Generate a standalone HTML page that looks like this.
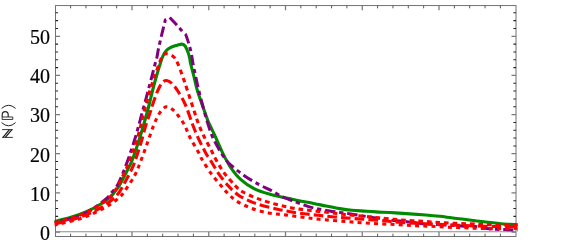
<!DOCTYPE html>
<html><head><meta charset="utf-8"><title>plot</title>
<style>
html,body{margin:0;padding:0;background:#fff;}
body{width:566px;height:243px;overflow:hidden;position:relative;font-family:"Liberation Serif",serif;}
</style></head><body>
<svg width="566" height="243" viewBox="0 0 566 243" style="position:absolute;left:0;top:0;display:block;will-change:transform">
<rect x="0" y="0" width="566" height="243" fill="#ffffff"/>
<defs><mask id="tm"><rect x="0" y="0" width="60" height="243" fill="#fff"/></mask><clipPath id="c"><rect x="54.3" y="5.55" width="463.4" height="230.95"/></clipPath></defs>
<line x1="55.5" y1="231.75" x2="516.0" y2="231.75" stroke="#8c8c8c" stroke-width="1"/>
<rect x="55.5" y="5.55" width="460.5" height="230.95" fill="none" stroke="#727272" stroke-width="1"/>
<path d="M70.60,5.55v2.8M70.60,236.5v-2.8M85.95,5.55v2.8M85.95,236.5v-2.8M101.30,5.55v2.8M101.30,236.5v-2.8M116.65,5.55v2.8M116.65,236.5v-2.8M147.35,5.55v2.8M147.35,236.5v-2.8M162.70,5.55v2.8M162.70,236.5v-2.8M178.05,5.55v2.8M178.05,236.5v-2.8M193.40,5.55v2.8M193.40,236.5v-2.8M224.10,5.55v2.8M224.10,236.5v-2.8M239.45,5.55v2.8M239.45,236.5v-2.8M254.80,5.55v2.8M254.80,236.5v-2.8M270.15,5.55v2.8M270.15,236.5v-2.8M300.85,5.55v2.8M300.85,236.5v-2.8M316.20,5.55v2.8M316.20,236.5v-2.8M331.55,5.55v2.8M331.55,236.5v-2.8M346.90,5.55v2.8M346.90,236.5v-2.8M377.60,5.55v2.8M377.60,236.5v-2.8M392.95,5.55v2.8M392.95,236.5v-2.8M408.30,5.55v2.8M408.30,236.5v-2.8M423.65,5.55v2.8M423.65,236.5v-2.8M454.35,5.55v2.8M454.35,236.5v-2.8M469.70,5.55v2.8M469.70,236.5v-2.8M485.05,5.55v2.8M485.05,236.5v-2.8M500.40,5.55v2.8M500.40,236.5v-2.8" stroke="#5a5a5a" stroke-width="1" fill="none"/>
<path d="M55.5,224.22h2.6M516.0,224.22h-2.6M55.5,216.39h2.6M516.0,216.39h-2.6M55.5,208.56h2.6M516.0,208.56h-2.6M55.5,200.73h2.6M516.0,200.73h-2.6M55.5,185.06h2.6M516.0,185.06h-2.6M55.5,177.23h2.6M516.0,177.23h-2.6M55.5,169.40h2.6M516.0,169.40h-2.6M55.5,161.57h2.6M516.0,161.57h-2.6M55.5,145.91h2.6M516.0,145.91h-2.6M55.5,138.08h2.6M516.0,138.08h-2.6M55.5,130.25h2.6M516.0,130.25h-2.6M55.5,122.42h2.6M516.0,122.42h-2.6M55.5,106.75h2.6M516.0,106.75h-2.6M55.5,98.92h2.6M516.0,98.92h-2.6M55.5,91.09h2.6M516.0,91.09h-2.6M55.5,83.26h2.6M516.0,83.26h-2.6M55.5,67.60h2.6M516.0,67.60h-2.6M55.5,59.77h2.6M516.0,59.77h-2.6M55.5,51.94h2.6M516.0,51.94h-2.6M55.5,44.11h2.6M516.0,44.11h-2.6M55.5,28.44h2.6M516.0,28.44h-2.6M55.5,20.61h2.6M516.0,20.61h-2.6M55.5,12.78h2.6M516.0,12.78h-2.6" stroke="#222222" stroke-width="1.05" fill="none"/>
<path d="M132.00,5.55v4.8M132.00,236.5v-4.8M208.75,5.55v4.8M208.75,236.5v-4.8M285.50,5.55v4.8M285.50,236.5v-4.8M362.25,5.55v4.8M362.25,236.5v-4.8M439.00,5.55v4.8M439.00,236.5v-4.8M55.5,232.05h4.5M516.0,232.05h-4.5M55.5,192.90h4.5M516.0,192.90h-4.5M55.5,153.74h4.5M516.0,153.74h-4.5M55.5,114.59h4.5M516.0,114.59h-4.5M55.5,75.43h4.5M516.0,75.43h-4.5M55.5,36.28h4.5M516.0,36.28h-4.5" stroke="#7a7a7a" stroke-width="1.25" fill="none"/>
<g clip-path="url(#c)" fill="none" stroke-linejoin="round">
<path d="M54.50,221.40C57.25,220.72 65.58,218.97 71.00,217.30C76.42,215.63 82.17,213.53 87.00,211.40C91.83,209.27 96.12,206.90 100.00,204.50C103.88,202.10 107.88,199.08 110.30,197.00C112.72,194.92 113.03,193.83 114.50,192.00C115.97,190.17 117.27,189.00 119.10,186.00C120.93,183.00 123.45,178.00 125.50,174.00C127.55,170.00 129.68,166.00 131.40,162.00C133.12,158.00 134.42,154.00 135.80,150.00C137.18,146.00 138.45,142.00 139.70,138.00C140.95,134.00 142.13,130.00 143.30,126.00C144.47,122.00 145.62,118.00 146.70,114.00C147.78,110.00 148.80,106.00 149.80,102.00C150.80,98.00 151.58,94.33 152.70,90.00C153.82,85.67 155.23,80.42 156.50,76.00C157.77,71.58 159.23,66.80 160.30,63.50C161.37,60.20 161.85,58.40 162.90,56.20C163.95,54.00 165.27,51.78 166.60,50.30C167.93,48.82 169.15,48.13 170.90,47.30C172.65,46.47 175.25,45.83 177.10,45.30C178.95,44.77 180.67,43.98 182.00,44.10C183.33,44.22 184.17,44.80 185.10,46.00C186.03,47.20 186.87,49.42 187.60,51.30C188.33,53.18 189.00,55.27 189.50,57.30C190.00,59.33 189.88,60.38 190.60,63.50C191.32,66.62 192.70,71.58 193.80,76.00C194.90,80.42 195.67,84.83 197.20,90.00C198.73,95.17 201.20,101.83 203.00,107.00C204.80,112.17 206.67,117.58 208.00,121.00C209.33,124.42 209.70,124.73 211.00,127.50C212.30,130.27 214.32,134.35 215.80,137.60C217.28,140.85 218.47,143.85 219.90,147.00C221.33,150.15 222.57,153.03 224.40,156.50C226.23,159.97 228.20,164.00 230.90,167.80C233.60,171.60 236.82,175.88 240.60,179.30C244.38,182.72 248.83,185.85 253.60,188.30C258.37,190.75 262.82,192.18 269.20,194.00C275.58,195.82 284.48,197.63 291.90,199.20C299.32,200.77 308.02,202.27 313.70,203.40C319.38,204.53 321.62,205.13 326.00,206.00C330.38,206.87 335.67,207.90 340.00,208.60C344.33,209.30 348.00,209.78 352.00,210.20C356.00,210.62 360.00,210.82 364.00,211.10C368.00,211.38 370.75,211.60 376.00,211.90C381.25,212.20 387.22,212.38 395.50,212.90C403.78,213.42 418.28,214.43 425.70,215.00C433.12,215.57 435.72,215.83 440.00,216.30C444.28,216.77 447.40,217.30 451.40,217.80C455.40,218.30 458.60,218.63 464.00,219.30C469.40,219.97 477.20,221.02 483.80,221.80C490.40,222.58 497.82,223.53 503.60,224.00C509.38,224.47 516.02,224.50 518.50,224.60" stroke="#008a00" stroke-width="3.1"/>
<path d="M54.50,222.60C58.42,221.58 71.75,218.68 78.00,216.50C84.25,214.32 87.28,212.47 92.00,209.50C96.72,206.53 103.05,201.48 106.30,198.70C109.55,195.92 109.72,194.92 111.50,192.80C113.28,190.68 115.17,189.13 117.00,186.00C118.83,182.87 120.80,178.00 122.50,174.00C124.20,170.00 125.73,166.00 127.20,162.00C128.67,158.00 129.97,154.00 131.30,150.00C132.63,146.00 133.98,142.00 135.20,138.00C136.42,134.00 137.50,130.00 138.60,126.00C139.70,122.00 140.72,118.00 141.80,114.00C142.88,110.00 144.02,106.00 145.10,102.00C146.18,98.00 147.15,94.33 148.30,90.00C149.45,85.67 150.83,80.50 152.00,76.00C153.17,71.50 154.52,65.92 155.30,63.00C156.08,60.08 156.17,60.90 156.70,58.50C157.23,56.10 157.68,52.48 158.50,48.60C159.32,44.72 160.45,40.02 161.60,35.20C162.75,30.38 164.77,22.28 165.40,19.70C166.12,19.32 168.98,17.78 169.70,17.40C170.73,18.52 174.05,22.07 175.90,24.10C177.75,26.13 179.15,27.85 180.80,29.60C182.45,31.35 184.97,33.77 185.80,34.60C186.30,36.12 187.88,40.55 188.80,43.70C189.72,46.85 190.57,50.00 191.30,53.50C192.03,57.00 192.48,60.95 193.20,64.70C193.92,68.45 194.72,71.92 195.60,76.00C196.48,80.08 197.30,84.20 198.50,89.20C199.70,94.20 201.35,100.60 202.80,106.00C204.25,111.40 205.65,116.60 207.20,121.60C208.75,126.60 210.38,131.85 212.10,136.00C213.82,140.15 215.72,143.25 217.50,146.50C219.28,149.75 220.67,152.48 222.80,155.50C224.93,158.52 226.65,161.20 230.30,164.60C233.95,168.00 239.88,172.55 244.70,175.90C249.52,179.25 254.98,182.38 259.20,184.70C263.42,187.02 265.87,187.67 270.00,189.80C274.13,191.93 279.52,195.40 284.00,197.50C288.48,199.60 292.93,200.92 296.90,202.40C300.87,203.88 304.25,205.32 307.80,206.40C311.35,207.48 314.58,208.15 318.20,208.90C321.82,209.65 325.87,210.32 329.50,210.90C333.13,211.48 336.43,211.90 340.00,212.40C343.57,212.90 347.10,213.32 350.90,213.90C354.70,214.48 359.00,215.27 362.80,215.90C366.60,216.53 370.23,217.20 373.70,217.70C377.17,218.20 380.30,218.45 383.60,218.90C386.90,219.35 389.62,219.93 393.50,220.40C397.38,220.87 402.35,221.20 406.90,221.70C411.45,222.20 416.00,222.95 420.80,223.40C425.60,223.85 429.00,223.97 435.70,224.40C442.40,224.83 454.45,225.63 461.00,226.00C467.55,226.37 470.70,226.20 475.00,226.60C479.30,227.00 483.35,227.95 486.80,228.40C490.25,228.85 492.73,229.10 495.70,229.30C498.67,229.50 502.13,229.52 504.60,229.60C507.07,229.68 508.18,229.72 510.50,229.80C512.82,229.88 517.17,230.05 518.50,230.10" stroke="#800080" stroke-width="3.0" stroke-dasharray="10.4 3.85 4.3 3.85" stroke-dashoffset="15.81"/>
<path d="M54.50,222.60C57.25,221.90 65.58,220.15 71.00,218.40C76.42,216.65 82.17,214.38 87.00,212.10C91.83,209.82 96.17,207.18 100.00,204.70C103.83,202.22 107.70,199.27 110.00,197.20C112.30,195.13 112.50,194.17 113.80,192.30C115.10,190.43 116.13,189.05 117.80,186.00C119.47,182.95 121.90,178.00 123.80,174.00C125.70,170.00 127.58,166.00 129.20,162.00C130.82,158.00 132.12,154.00 133.50,150.00C134.88,146.00 136.32,142.00 137.50,138.00C138.68,134.00 139.60,130.00 140.60,126.00C141.60,122.00 142.47,118.00 143.50,114.00C144.53,110.00 145.70,106.00 146.80,102.00C147.90,98.00 148.77,94.33 150.10,90.00C151.43,85.67 153.18,80.67 154.80,76.00C156.42,71.33 158.35,65.53 159.80,62.00C161.25,58.47 162.37,56.17 163.50,54.80C164.63,53.43 164.95,53.50 166.60,53.80C168.25,54.10 171.55,55.02 173.40,56.60C175.25,58.18 176.18,60.07 177.70,63.30C179.22,66.53 180.93,71.65 182.50,76.00C184.07,80.35 185.22,83.75 187.10,89.40C188.98,95.05 191.93,104.25 193.80,109.90C195.67,115.55 196.63,118.95 198.30,123.30C199.97,127.65 201.50,131.22 203.80,136.00C206.10,140.78 210.20,148.28 212.10,152.00C214.00,155.72 213.23,154.87 215.20,158.30C217.17,161.73 220.58,168.07 223.90,172.60C227.22,177.13 232.08,182.35 235.10,185.50C238.12,188.65 238.33,189.35 242.00,191.50C245.67,193.65 251.65,196.32 257.10,198.40C262.55,200.48 268.90,202.42 274.70,204.00C280.50,205.58 286.22,206.85 291.90,207.90C297.58,208.95 303.02,209.57 308.80,210.30C314.58,211.03 320.90,211.63 326.60,212.30C332.30,212.97 337.27,213.68 343.00,214.30C348.73,214.92 355.17,215.42 361.00,216.00C366.83,216.58 372.42,217.23 378.00,217.80C383.58,218.37 388.87,218.92 394.50,219.40C400.13,219.88 406.02,220.30 411.80,220.70C417.58,221.10 423.50,221.43 429.20,221.80C434.90,222.17 439.20,222.55 446.00,222.90C452.80,223.25 463.00,223.60 470.00,223.90C477.00,224.20 482.07,224.50 488.00,224.70C493.93,224.90 500.52,224.97 505.60,225.10C510.68,225.23 516.35,225.43 518.50,225.50" stroke="#ff0000" stroke-width="3.1" stroke-dasharray="4.7 3.9" stroke-dashoffset="0.13"/>
<path d="M54.50,223.90C57.42,223.20 66.42,221.35 72.00,219.70C77.58,218.05 83.00,216.12 88.00,214.00C93.00,211.88 97.20,210.12 102.00,207.00C106.80,203.88 112.87,199.65 116.80,195.30C120.73,190.95 122.80,185.98 125.60,180.90C128.40,175.82 131.10,170.95 133.60,164.80C136.10,158.65 138.55,150.63 140.60,144.00C142.65,137.37 144.33,130.17 145.90,125.00C147.47,119.83 148.90,116.33 150.00,113.00C151.10,109.67 151.28,108.55 152.50,105.00C153.72,101.45 155.72,95.37 157.30,91.70C158.88,88.03 160.45,84.87 162.00,83.00C163.55,81.13 164.93,80.42 166.60,80.50C168.27,80.58 170.13,81.75 172.00,83.50C173.87,85.25 175.55,87.42 177.80,91.00C180.05,94.58 183.08,99.55 185.50,105.00C187.92,110.45 190.22,118.27 192.30,123.70C194.38,129.13 195.77,132.73 198.00,137.60C200.23,142.47 203.67,149.20 205.70,152.90C207.73,156.60 207.97,156.23 210.20,159.80C212.43,163.37 216.02,169.88 219.10,174.30C222.18,178.72 226.22,183.43 228.70,186.30C231.18,189.17 231.95,189.75 234.00,191.50C236.05,193.25 237.15,194.72 241.00,196.80C244.85,198.88 251.22,201.98 257.10,204.00C262.98,206.02 270.75,207.60 276.30,208.90C281.85,210.20 285.73,210.98 290.40,211.80C295.07,212.62 299.67,213.22 304.30,213.80C308.93,214.38 313.67,214.82 318.20,215.30C322.73,215.78 327.03,216.27 331.50,216.70C335.97,217.13 340.58,217.53 345.00,217.90C349.42,218.27 353.38,218.57 358.00,218.90C362.62,219.23 367.95,219.55 372.70,219.90C377.45,220.25 382.12,220.60 386.50,221.00C390.88,221.40 392.58,221.83 399.00,222.30C405.42,222.77 416.83,223.38 425.00,223.80C433.17,224.22 440.50,224.47 448.00,224.80C455.50,225.13 462.17,225.52 470.00,225.80C477.83,226.08 486.92,226.33 495.00,226.50C503.08,226.67 514.58,226.75 518.50,226.80" stroke="#ff0000" stroke-width="3.1" stroke-dasharray="9.6 4.12" stroke-dashoffset="12.63"/>
<path d="M54.50,225.10C58.58,224.08 71.97,221.22 79.00,219.00C86.03,216.78 91.33,214.33 96.70,211.80C102.07,209.27 107.45,206.20 111.20,203.80C114.95,201.40 117.07,199.37 119.20,197.40C121.33,195.43 121.47,195.57 124.00,192.00C126.53,188.43 131.65,181.03 134.40,176.00C137.15,170.97 138.40,167.13 140.50,161.80C142.60,156.47 144.78,150.13 147.00,144.00C149.22,137.87 151.68,130.17 153.80,125.00C155.92,119.83 157.63,116.03 159.70,113.00C161.77,109.97 164.07,107.38 166.20,106.80C168.33,106.22 170.52,108.05 172.50,109.50C174.48,110.95 176.10,112.92 178.10,115.50C180.10,118.08 182.50,121.30 184.50,125.00C186.50,128.70 187.63,132.92 190.10,137.70C192.57,142.48 197.28,150.02 199.30,153.70C201.32,157.38 200.25,156.52 202.20,159.80C204.15,163.08 207.78,168.98 211.00,173.40C214.22,177.82 218.67,182.95 221.50,186.30C224.33,189.65 225.55,191.08 228.00,193.50C230.45,195.92 232.42,198.38 236.20,200.80C239.98,203.22 245.35,205.98 250.70,208.00C256.05,210.02 262.58,211.75 268.30,212.90C274.02,214.05 279.25,214.17 285.00,214.90C290.75,215.63 297.12,216.57 302.80,217.30C308.48,218.03 312.07,218.62 319.10,219.30C326.13,219.98 337.85,220.82 345.00,221.40C352.15,221.98 356.23,222.40 362.00,222.80C367.77,223.20 373.77,223.50 379.60,223.80C385.43,224.10 391.30,224.30 397.00,224.60C402.70,224.90 408.12,225.32 413.80,225.60C419.48,225.88 425.40,226.03 431.10,226.30C436.80,226.57 442.18,226.95 448.00,227.20C453.82,227.45 460.17,227.58 466.00,227.80C471.83,228.02 477.33,228.33 483.00,228.50C488.67,228.67 494.08,228.85 500.00,228.80C505.92,228.75 515.42,228.30 518.50,228.20" stroke="#ff0000" stroke-width="3.1" stroke-dasharray="4.0 4.22" stroke-dashoffset="0.9"/>
</g>
<g mask="url(#tm)">
<text x="50" y="239.89" text-anchor="end" font-family="Liberation Serif, serif" font-size="20" fill="#000" stroke="#000" stroke-width="0.2">0</text>
<text x="50" y="200.74" text-anchor="end" font-family="Liberation Serif, serif" font-size="20" fill="#000" stroke="#000" stroke-width="0.2">10</text>
<text x="50" y="161.58" text-anchor="end" font-family="Liberation Serif, serif" font-size="20" fill="#000" stroke="#000" stroke-width="0.2">20</text>
<text x="50" y="122.43" text-anchor="end" font-family="Liberation Serif, serif" font-size="20" fill="#000" stroke="#000" stroke-width="0.2">30</text>
<text x="50" y="83.27" text-anchor="end" font-family="Liberation Serif, serif" font-size="20" fill="#000" stroke="#000" stroke-width="0.2">40</text>
<text x="50" y="44.12" text-anchor="end" font-family="Liberation Serif, serif" font-size="20" fill="#000" stroke="#000" stroke-width="0.2">50</text>
</g>
<g transform="translate(12.8,137.4) rotate(-90)" fill="none" stroke="#222222" stroke-width="0.9" stroke-linejoin="miter">
<path d="M0,0V-10.7M7.8,-10.7V0"/><path d="M0,-9.85L7.8,-3.35M0,-7.45L7.8,-0.85" stroke-width="1.3"/>
<path d="M14.8,-11.2Q8.4,-4.2 14.8,2.8" stroke-width="1"/>
<path d="M17.95,-10.7H20.4V0H17.95Z"/>
<path d="M20.4,-10.6H22.6Q25.8,-10.6 25.8,-7.6Q25.8,-4.6 22.6,-4.6H20.4" stroke-width="1.15"/>
<path d="M29,-11.2Q35.2,-4.2 29,2.8" stroke-width="1"/>
</g>
</svg>
</body></html>
